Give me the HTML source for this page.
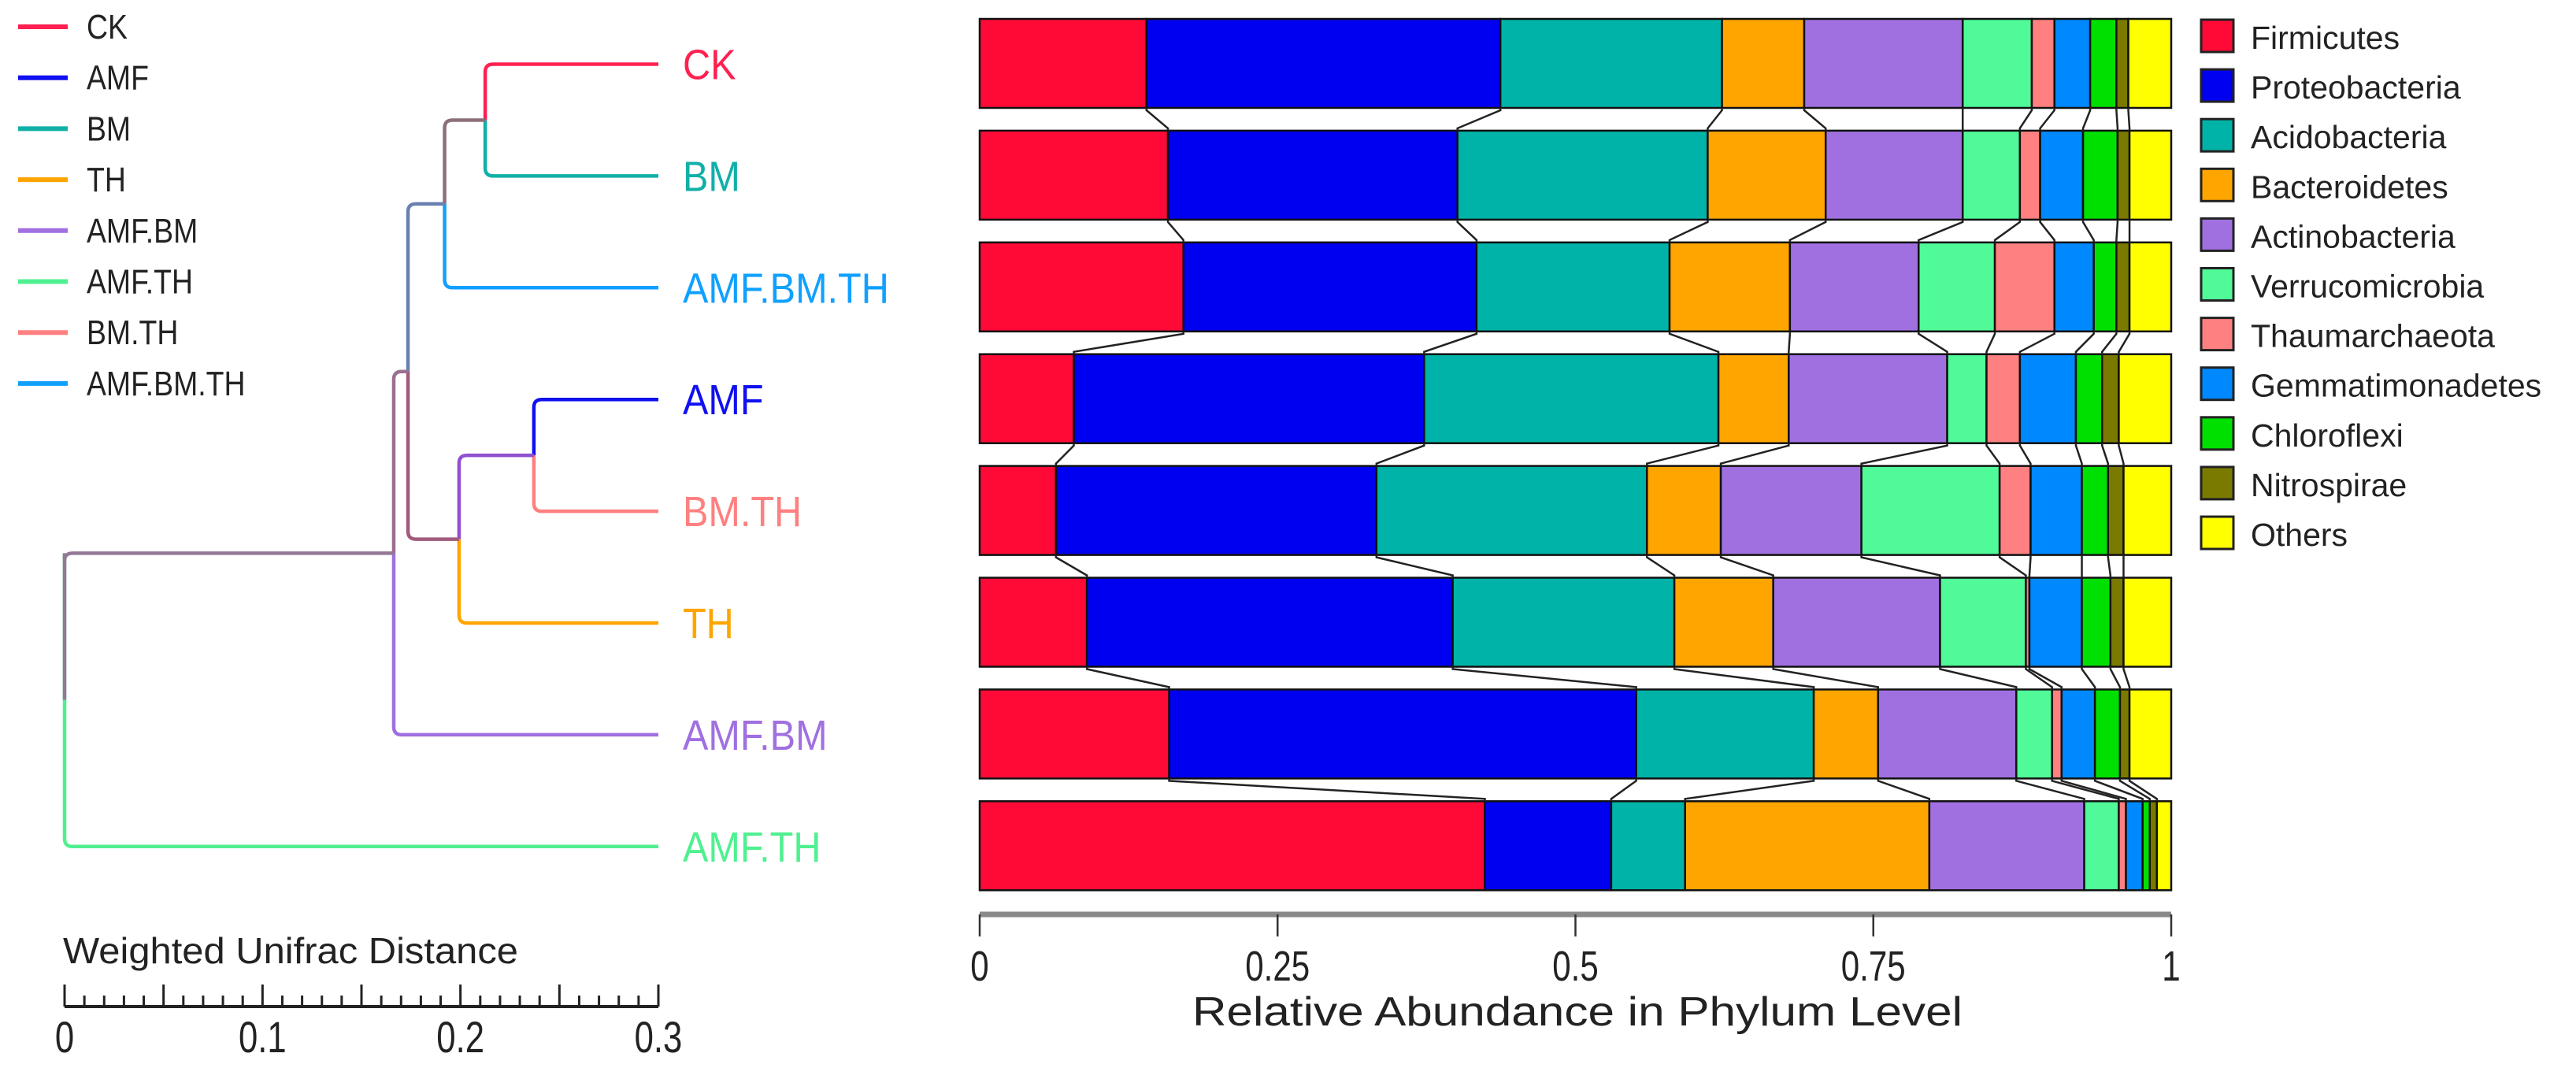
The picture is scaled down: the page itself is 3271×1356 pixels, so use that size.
<!DOCTYPE html>
<html><head><meta charset="utf-8"><style>
html,body{margin:0;padding:0;background:#fff;}
svg{display:block;font-family:"Liberation Sans",sans-serif;}
</style></head>
<body>
<svg id="chart" xmlns="http://www.w3.org/2000/svg" width="3271" height="1356" viewBox="0 0 3271 1356">
<rect x="0" y="0" width="3271" height="1356" fill="#fff"/>
<g id="dendro"></g>
<g id="toplegend"></g>
<g id="bars"></g>
<g id="legend"></g>
<g id="axes"></g>
</svg>
<script>
const samples = ["CK","BM","AMF.BM.TH","AMF","BM.TH","TH","AMF.BM","AMF.TH"];
const phyla = ["Firmicutes","Proteobacteria","Acidobacteria","Bacteroidetes","Actinobacteria","Verrucomicrobia","Thaumarchaeota","Gemmatimonadetes","Chloroflexi","Nitrospirae","Others"];
const phylumColors = ["#FF0A37","#0000F0","#00B3A8","#FFA500","#A070E0","#50FA98","#FF8080","#0088FF","#00E000","#7A7A00","#FFFF00"];
const vCK      = [.140,.297,.186,.069,.133,.058,.019,.030,.022,.010,.036];
const vBM      = [.158,.243,.210,.099,.115,.048,.017,.036,.029,.010,.035];
const vAMFBMTH = [.171,.246,.162,.101,.108,.064,.050,.033,.019,.011,.035];
const vAMF     = [.079,.294,.247,.059,.133,.033,.028,.047,.022,.014,.044];
const vBMTH    = [.064,.269,.227,.062,.118,.116,.026,.043,.022,.013,.040];
const vTH      = [.090,.307,.186,.083,.140,.072,.003,.044,.024,.011,.040];
const vAMFBM   = [.159,.392,.149,.054,.116,.030,.008,.028,.021,.008,.035];
const vAMFTH   = [.424,.106,.062,.205,.130,.029,.006,.014,.006,.006,.012];
const abundance = [vCK,vBM,vAMFBMTH,vAMF,vBMTH,vTH,vAMFBM,vAMFTH];
const xTicks = [0,0.25,0.5,0.75,1];
const xTickLabels = ["0","0.25","0.5","0.75","1"];
const distTicks = [0,0.1,0.2,0.3];
const distTickLabels = ["0","0.1","0.2","0.3"];
const sampleColors = {"CK":"#FF2050","AMF":"#1010F0","BM":"#10B0A8","TH":"#FFA500","AMF.BM":"#A070E0","AMF.TH":"#50F090","BM.TH":"#FF8080","AMF.BM.TH":"#10A0FF"};
const legendOrder = ["CK","AMF","BM","TH","AMF.BM","AMF.TH","BM.TH","AMF.BM.TH"];
// tree node heights (distance)
const nodeDist = {A:0.2125, B:0.192, C:0.1735, D:0.1993, E:0.2371, F:0.1663, R:0};

const NS="http://www.w3.org/2000/svg";
function mk(tag, attrs, parent, text){
  const e=document.createElementNS(NS,tag);
  for(const k in attrs) e.setAttribute(k,attrs[k]);
  if(text!==undefined) e.textContent=text;
  parent.appendChild(e); return e;
}
const X0=1244, X1=2757;
const xs = v => X0 + v*(X1-X0);
const BAR_TOP=24, PITCH=141.9, BAR_H=113;
const rowY = i => BAR_TOP + i*PITCH;
const D0=82, D1=836;
const dx = d => D0 + d/0.3*(D1-D0);
const leafY = i => rowY(i) + BAR_H/2 + 1;

const gb=document.getElementById('bars');
const bounds=[];
abundance.forEach((vals,i)=>{
  let cum=0; const b=[0];
  const g=mk('g',{},gb);
  
  
  vals.forEach((v,j)=>{
    const xa=xs(cum); let xb=xs(Math.min(1,cum+v));
    if(j===vals.length-1) xb=xs(1);
    const r=mk('rect',{x:xa,y:rowY(i),width:Math.max(0,xb-xa),height:BAR_H,fill:phylumColors[j],stroke:'#111','stroke-width':2.5},g);
    
    
    cum+=v; b.push(Math.min(1,cum));
  });
  bounds.push(b);
});
const gc=mk('g',{},gb);


for(let i=0;i<abundance.length-1;i++){
  const yb=rowY(i)+BAR_H, yt=rowY(i+1);
  for(let j=1;j<phyla.length;j++){
    const xa=xs(bounds[i][j]), xb=xs(bounds[i+1][j]);
    mk('path',{d:`M${xa},${yb} L${xa},${yb+3} L${xb},${yt-3} L${xb},${yt}`,fill:'none',stroke:'#222','stroke-width':2.5},gc);
  }
}

const gl=document.getElementById('legend');
phyla.forEach((p,j)=>{
  const y=24+j*63.1;
  const g=mk('g',{},gl);
  
  
  mk('rect',{x:2795,y:y+1,width:41,height:41,fill:phylumColors[j],stroke:'#222','stroke-width':3},g);
  mk('text',{x:2858,y:y+38,'font-size':41,fill:'#222'},g,p);
});

const ga=document.getElementById('axes');
const xa=mk('g',{},ga);


mk('line',{x1:X0,y1:1161,x2:X1,y2:1161,stroke:'#8a8a8a','stroke-width':7},xa);
xTicks.forEach((t,k)=>{
  mk('line',{x1:xs(t),y1:1161,x2:xs(t),y2:1189,stroke:'#333','stroke-width':2.5},xa);
  const tx=mk('text',{x:xs(t),y:1245,'font-size':54,'text-anchor':'middle',fill:'#222',transform:`translate(${xs(t)},0) scale(0.78,1) translate(${-xs(t)},0)`},xa,xTickLabels[k]);
  
  
});
const xt=mk('text',{x:2003,y:1302,'font-size':52,'text-anchor':'middle',fill:'#222',textLength:978,lengthAdjust:'spacingAndGlyphs'},ga,'Relative Abundance in Phylum Level');



const gd=mk('g',{},ga);


const dt=mk('text',{x:80,y:1223,'font-size':46,fill:'#222',textLength:578,lengthAdjust:'spacingAndGlyphs'},gd,'Weighted Unifrac Distance');


mk('line',{x1:D0,y1:1278,x2:D1,y2:1278,stroke:'#222','stroke-width':4},gd);
for(let k=0;k<=30;k++){
  const x=dx(k*0.01); const h=(k%5===0)?28:14;
  mk('line',{x1:x,y1:1278,x2:x,y2:1278-h,stroke:'#222','stroke-width':3},gd);
}
distTicks.forEach((t,k)=>{
  const x=dx(t);
  const tx=mk('text',{x:x,y:1336,'font-size':56,'text-anchor':'middle',fill:'#222',transform:`translate(${x},0) scale(0.78,1) translate(${-x},0)`},gd,distTickLabels[k]);
  
  
});

const gt=document.getElementById('toplegend');
legendOrder.forEach((s,k)=>{
  const y=34+k*64.7;
  const g=mk('g',{},gt);
  
  
  mk('line',{x1:23,y1:y,x2:86,y2:y,stroke:sampleColors[s],'stroke-width':6},g);
  mk('text',{x:110,y:y+15,'font-size':44,fill:'#222',transform:`translate(110,0) scale(0.85,1) translate(-110,0)`},g,s);
});

const gdd=document.getElementById('dendro');
const yA=(leafY(0)+leafY(1))/2, yB=(yA+leafY(2))/2;
const yE=(leafY(3)+leafY(4))/2, yD=(yE+leafY(5))/2;
const yC=(yB+yD)/2, yF=(yC+leafY(6))/2;
function elbow(x1,y1,x2,y2,color,name){
  const r=10, s=y2>y1?1:-1;
  const p=mk('path',{d:`M${x1},${y1} L${x1},${y2-s*r} Q${x1},${y2} ${x1+r},${y2} L${x2},${y2}`,fill:'none',stroke:color,'stroke-width':4.5},gdd);
  
  
}
const xA=dx(nodeDist.A), xB=dx(nodeDist.B), xC=dx(nodeDist.C), xD=dx(nodeDist.D), xE=dx(nodeDist.E), xF=dx(nodeDist.F), xR=dx(nodeDist.R);
elbow(xA,yA,D1,leafY(0),sampleColors["CK"],'branch-ck');
elbow(xA,yA,D1,leafY(1),sampleColors["BM"],'branch-bm');
elbow(xB,yB,xA,yA,'#8b6f7a','branch-ck-bm');
elbow(xB,yB,D1,leafY(2),sampleColors["AMF.BM.TH"],'branch-amf-bm-th');
elbow(xE,yE,D1,leafY(3),sampleColors["AMF"],'branch-amf');
elbow(xE,yE,D1,leafY(4),sampleColors["BM.TH"],'branch-bm-th');
elbow(xD,yD,xE,yE,'#9050d0','branch-amf-bmth');
elbow(xD,yD,D1,leafY(5),sampleColors["TH"],'branch-th');
elbow(xC,yC,xB,yB,'#6a80b0','branch-upper-cluster');
elbow(xC,yC,xD,yD,'#a05a7a','branch-lower-cluster');
elbow(xF,yF,xC,yC,'#9a7090','branch-main-cluster');
elbow(xF,yF,D1,leafY(6),sampleColors["AMF.BM"],'branch-amf-bm');
elbow(xR,yF+1,xF,yF,'#957895','branch-root-main');
elbow(xR,yF+1,D1,leafY(7),sampleColors["AMF.TH"],'branch-amf-th');
mk('line',{x1:xR,y1:yF,x2:xR,y2:(yF+leafY(7))/2,stroke:'#957895','stroke-width':4.5},gdd);
samples.forEach((s,i)=>{
  const t=mk('text',{x:867,y:leafY(i)+19,'font-size':54,fill:sampleColors[s],transform:`translate(867,0) scale(0.9,1) translate(-867,0)`},gdd,s);
  
  
});
</script>
</body></html>
